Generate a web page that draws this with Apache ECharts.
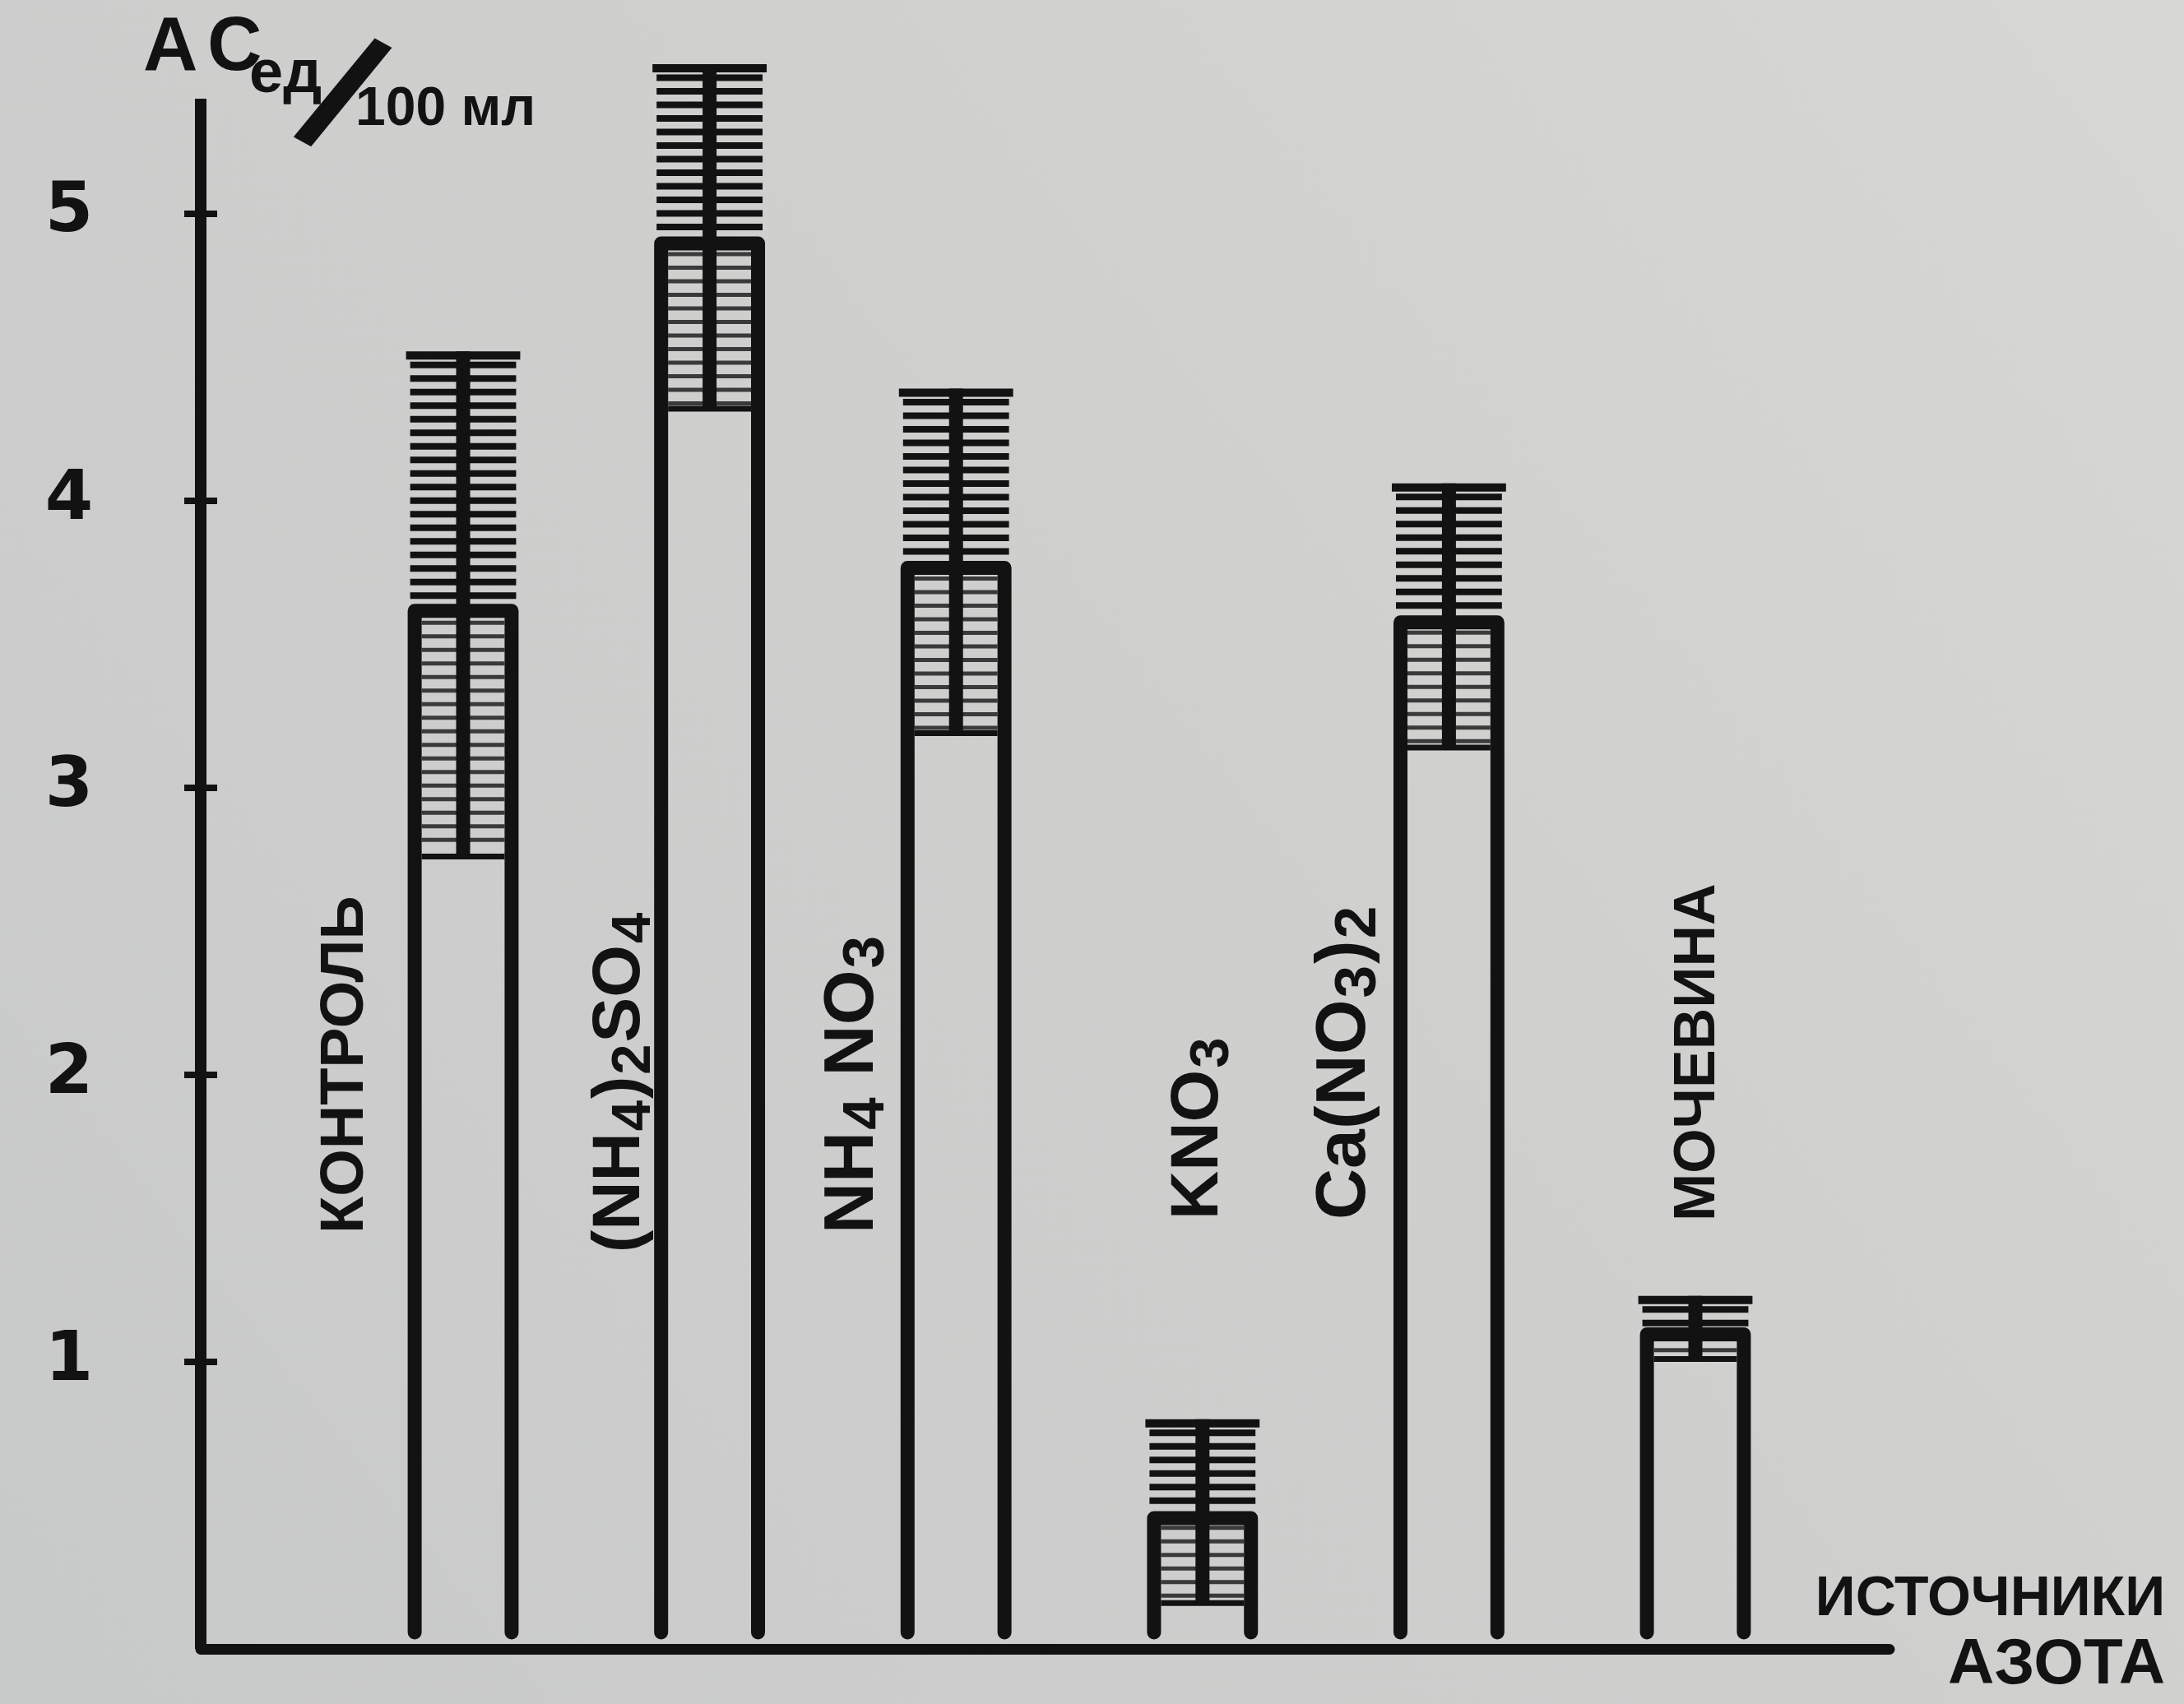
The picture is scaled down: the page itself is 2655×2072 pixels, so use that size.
<!DOCTYPE html>
<html>
<head>
<meta charset="utf-8">
<script src="https://cdn.jsdelivr.net/npm/echarts@6/dist/echarts.min.js"></script>
<style>
  html, body { margin: 0; padding: 0; background: #cfd0ce; }
  #chart { width: 2655px; height: 2072px; }
</style>
</head>
<body>
<div id="chart"></div>
<script>
// Nitrogen sources and the activity measured with each (units per 100 ml)
const categories = ['КОНТРОЛЬ', '(NH4)2SO4', 'NH4 NO3', 'KNO3', 'Ca(NO3)2', 'МОЧЕВИНА'];
const meanValues = [3.64, 4.92, 3.79, 0.48, 3.60, 1.12];
const errorValues = [0.88, 0.60, 0.60, 0.32, 0.46, 0.11];

// Axis ticks and titles
const yTickValues = [1, 2, 3, 4, 5];
const yTickLabels = ['1', '2', '3', '4', '5'];
const yTitleParts = ['A', 'C', 'ед', '/', '100 мл'];
const xTitleLines = ['ИСТОЧНИКИ', 'АЗОТА'];

// Drawing style
const INK = '#121212';
const BAR_WIDTH = 0.45;      // share of the spacing between sources
const STROKE = 17;           // outline and stem thickness, px
const HATCH_STEP = 16.5;     // ladder rung spacing, px
const FOOT_GAP = 20;         // sides stop short of the baseline, px
const LABEL_SHIFT = [-142, -108, -125, -4, -126, 4];   // label centre vs bar centre, px
const LABEL_LIFT = [505, 482, 505, 522, 522, 520];     // label start above baseline, px
const LABEL_SIZE = [74, 82, 86, 82, 86, 70];
const LABEL_FONT = '"Liberation Sans", Arial, sans-serif';

// digits in chemical formulas are set as lowered, smaller figures
function formulaMarkup(name) {
  return name.replace(/(\d)/g, '{s|$1}');
}

const seriesData = categories.map((name, i) => [i, meanValues[i], errorValues[i]]);

function renderSource(params, api) {
  const i = api.value(0);
  const mean = api.value(1);
  const err = api.value(2);
  const p = api.coord([i, mean]);
  const cx = p[0];
  const top = p[1];
  const base = api.coord([i, 0])[1];
  const hi = api.coord([i, mean + err])[1];
  const lo = api.coord([i, mean - err])[1];
  const half = api.size([BAR_WIDTH, 0])[0] / 2;
  const side = half - STROKE / 2;
  const inner = half - STROKE;
  const children = [];

  // ladder rungs over the spread
  for (let y = hi + HATCH_STEP; y < lo - 4; y += HATCH_STEP) {
    if (y < top - 5) {
      children.push({ type: 'line', shape: { x1: cx - half + 3, y1: y, x2: cx + half - 3, y2: y },
        style: { stroke: INK, lineWidth: 8 } });
    } else if (y > top + STROKE + 3) {
      children.push({ type: 'line', shape: { x1: cx - inner, y1: y, x2: cx + inner, y2: y },
        style: { stroke: '#3a3a3a', lineWidth: 5 } });
    }
  }
  // foot of the spread
  children.push({ type: 'line', shape: { x1: cx - inner, y1: lo, x2: cx + inner, y2: lo },
    style: { stroke: INK, lineWidth: 7 } });
  // cap of the spread
  children.push({ type: 'line', shape: { x1: cx - half - 2, y1: hi + 5, x2: cx + half + 2, y2: hi + 5 },
    style: { stroke: INK, lineWidth: 10 } });
  // open-bottomed bar: two sides and the lid
  children.push({
    type: 'polyline',
    shape: { points: [[cx - side, base - FOOT_GAP], [cx - side, top + STROKE / 2],
                      [cx + side, top + STROKE / 2], [cx + side, base - FOOT_GAP]] },
    style: { fill: null, stroke: INK, lineWidth: STROKE, lineJoin: 'round', lineCap: 'round' }
  });
  // central stem
  children.push({ type: 'line', shape: { x1: cx, y1: hi, x2: cx, y2: lo },
    style: { stroke: INK, lineWidth: STROKE } });
  // source name, reading upwards
  const size = LABEL_SIZE[i];
  children.push({
    type: 'text',
    x: cx + LABEL_SHIFT[i],
    y: base - LABEL_LIFT[i],
    rotation: Math.PI / 2,
    style: {
      text: formulaMarkup(categories[i]),
      fontFamily: LABEL_FONT,
      fontWeight: 'bold',
      fontSize: size,
      lineHeight: size,
      fill: INK,
      align: 'left',
      verticalAlign: 'middle',
      rich: {
        s: { fontSize: Math.round(size * 0.82), fontFamily: LABEL_FONT, fontWeight: 'bold',
             fill: INK, padding: [Math.round(size * 0.4), 2, 0, 2] }
      }
    }
  });
  return { type: 'group', children };
}

const chart = echarts.init(document.getElementById('chart'), null, { renderer: 'canvas' });

const yScale = { type: 'value', min: 0, max: 5.4, interval: 1, position: 'left', splitLine: { show: false } };

chart.setOption({
  backgroundColor: new echarts.graphic.LinearGradient(0, 1, 1, 0, [
    { offset: 0, color: '#c8cac9' },
    { offset: 0.55, color: '#cfd0ce' },
    { offset: 1, color: '#d7d7d3' }
  ]),
  animation: false,
  grid: { left: 244, right: 358, top: 120, bottom: 67 },
  xAxis: {
    type: 'value',
    min: -1.0648,
    max: 5.7877,
    splitLine: { show: false },
    axisTick: { show: false },
    axisLabel: { show: false },
    axisLine: { show: true, lineStyle: { color: INK, width: 13, cap: 'round' } },
    name: '{a|' + xTitleLines[0] + '}\n{b|' + xTitleLines[1] + '}',
    nameLocation: 'end',
    nameGap: 335,
    nameTextStyle: {
      align: 'right',
      verticalAlign: 'middle',
      padding: [0, 0, 40, 0],
      rich: {
        a: { fontFamily: LABEL_FONT, fontWeight: 'bold', fontSize: 68, lineHeight: 80, color: INK, align: 'right' },
        b: { fontFamily: LABEL_FONT, fontWeight: 'bold', fontSize: 78, lineHeight: 80, color: INK, align: 'right' }
      }
    }
  },
  yAxis: [
    Object.assign({}, yScale, {
      axisLine: { show: true, onZero: false, lineStyle: { color: INK, width: 14, cap: 'butt' } },
      axisTick: { show: true, customValues: yTickValues, length: 20, lineStyle: { color: INK, width: 8 } },
      axisLabel: {
        show: true,
        customValues: yTickValues,
        formatter: (v) => yTickLabels[yTickValues.indexOf(v)],
        align: 'center',
        margin: 160,
        fontFamily: '"DejaVu Sans", sans-serif',
        fontWeight: 'bold',
        fontSize: 84,
        color: INK
      }
    }),
    Object.assign({}, yScale, {
      axisLine: { show: false, onZero: false },
      axisTick: { show: true, inside: true, customValues: yTickValues, length: 20, lineStyle: { color: INK, width: 8 } },
      axisLabel: { show: false }
    })
  ],
  graphic: [{
    type: 'group',
    children: [
      { type: 'text', x: 174, y: 60, style: { text: yTitleParts[0], fontFamily: LABEL_FONT, fontWeight: 'bold',
        fontSize: 92, fill: INK, align: 'left', verticalAlign: 'middle' } },
      { type: 'text', x: 252, y: 60, style: { text: yTitleParts[1], fontFamily: LABEL_FONT, fontWeight: 'bold',
        fontSize: 92, fill: INK, align: 'left', verticalAlign: 'middle' } },
      { type: 'text', x: 303, y: 92, style: { text: yTitleParts[2], fontFamily: LABEL_FONT, fontWeight: 'bold',
        fontSize: 74, fill: INK, align: 'left', verticalAlign: 'middle' } },
      { type: 'text', x: 409, y: 126, rotation: -0.50, style: { text: yTitleParts[3], fontFamily: LABEL_FONT,
        fontWeight: 'bold', fontSize: 205, fill: INK, align: 'center', verticalAlign: 'middle' } },
      { type: 'text', x: 432, y: 134, style: { text: yTitleParts[4], fontFamily: LABEL_FONT, fontWeight: 'bold',
        fontSize: 66, fill: INK, align: 'left', verticalAlign: 'middle' } }
    ]
  }],
  series: [{
    type: 'custom',
    name: 'Активность',
    xAxisIndex: 0,
    yAxisIndex: 0,
    renderItem: renderSource,
    encode: { x: 0, y: 1 },
    data: seriesData
  }]
});
</script>
</body>
</html>
